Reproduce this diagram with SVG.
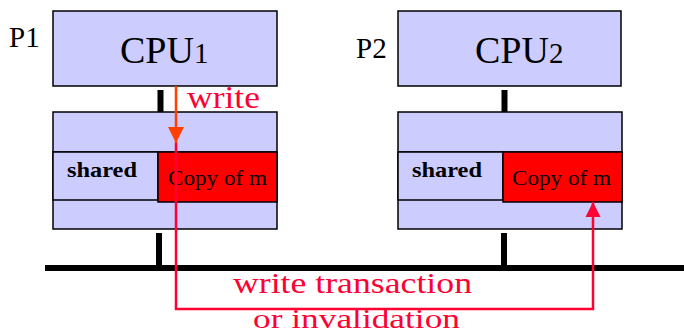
<svg xmlns="http://www.w3.org/2000/svg" width="684" height="335" viewBox="0 0 684 335">
  <style>
    .box { fill: #ccccff; stroke: #000; stroke-width: 1.5; }
    .cell { fill: #ccccff; stroke: #000; stroke-width: 1.5; }
    .copy { fill: #ff0000; stroke: #000; stroke-width: 1.5; }
    .stub { stroke: #000; stroke-width: 6; }
    .lbl { font-family: "Liberation Serif", "Times New Roman", serif; fill: #000; }
    .red { font-family: "Liberation Serif", "Times New Roman", serif; fill: #ff0033; }
  </style>
  <defs>
    <marker id="headOrange" viewBox="0 0 10 10" refX="10" refY="5" markerWidth="6.5" markerHeight="7" markerUnits="strokeWidth" orient="auto">
      <path d="M0,0 L10,5 L0,10 Z" fill="#ff4000"/>
    </marker>
    <marker id="headRed" viewBox="0 0 10 10" refX="10" refY="5" markerWidth="6" markerHeight="7" markerUnits="strokeWidth" orient="auto">
      <path d="M0,0 L10,5 L0,10 Z" fill="#ff0033"/>
    </marker>
  </defs>

  <!-- system bus -->
  <line x1="45" y1="268" x2="684" y2="268" stroke="#000" stroke-width="6"/>

  <!-- processor 1 -->
  <g id="p1">
    <text class="lbl" x="9" y="47" font-size="29">P1</text>
    <rect class="box" x="53" y="11" width="224" height="75"/>
    <text class="lbl" x="120" y="63" font-size="38">CPU<tspan font-size="29">1</tspan></text>
    <line class="stub" x1="160.5" y1="90" x2="160.5" y2="112"/>
  </g>
  <g id="cache1">
    <rect class="box" x="53" y="112" width="224" height="117"/>
    <line x1="53" y1="152" x2="277" y2="152" stroke="#000" stroke-width="1.5"/>
    <rect class="cell" x="53" y="152" width="105" height="48"/>
    <rect class="copy" x="158" y="152" width="119" height="50"/>
    <text class="lbl" x="67" y="177" font-size="21" font-weight="bold" textLength="70" lengthAdjust="spacingAndGlyphs">shared</text>
    <text class="lbl" x="168" y="185" font-size="21" textLength="99" lengthAdjust="spacingAndGlyphs">Copy of m</text>
    <line class="stub" x1="159" y1="233" x2="159" y2="265"/>
  </g>

  <!-- processor 2 -->
  <g id="p2">
    <text class="lbl" x="356" y="58" font-size="29">P2</text>
    <rect class="box" x="398" y="11" width="223" height="75"/>
    <text class="lbl" x="475" y="63" font-size="38">CPU<tspan font-size="29">2</tspan></text>
    <line class="stub" x1="504.5" y1="90" x2="504.5" y2="112"/>
  </g>
  <g id="cache2">
    <rect class="box" x="398" y="112" width="224" height="117"/>
    <line x1="398" y1="152" x2="622" y2="152" stroke="#000" stroke-width="1.5"/>
    <rect class="cell" x="398" y="152" width="105" height="48"/>
    <rect class="copy" x="503" y="152" width="119" height="50"/>
    <text class="lbl" x="412" y="177" font-size="21" font-weight="bold" textLength="70" lengthAdjust="spacingAndGlyphs">shared</text>
    <text class="lbl" x="512" y="185" font-size="21" textLength="99" lengthAdjust="spacingAndGlyphs">Copy of m</text>
    <line class="stub" x1="504" y1="233" x2="504" y2="265"/>
  </g>

  <!-- write and bus transaction connectors -->
  <g id="connectors">
    <line x1="176" y1="86" x2="176" y2="143" stroke="#ff4000" stroke-width="2.5" marker-end="url(#headOrange)"/>
    <polyline points="176,143 176,309 593,309 593,202" fill="none" stroke="#ff0033" stroke-width="2.5" marker-end="url(#headRed)"/>
    <text class="red" x="187" y="108" font-size="31" textLength="73" lengthAdjust="spacingAndGlyphs">write</text>
    <text class="red" x="233" y="293" font-size="30" textLength="239" lengthAdjust="spacingAndGlyphs">write transaction</text>
    <text class="red" x="253" y="328" font-size="28" textLength="207" lengthAdjust="spacingAndGlyphs">or invalidation</text>
  </g>
</svg>
